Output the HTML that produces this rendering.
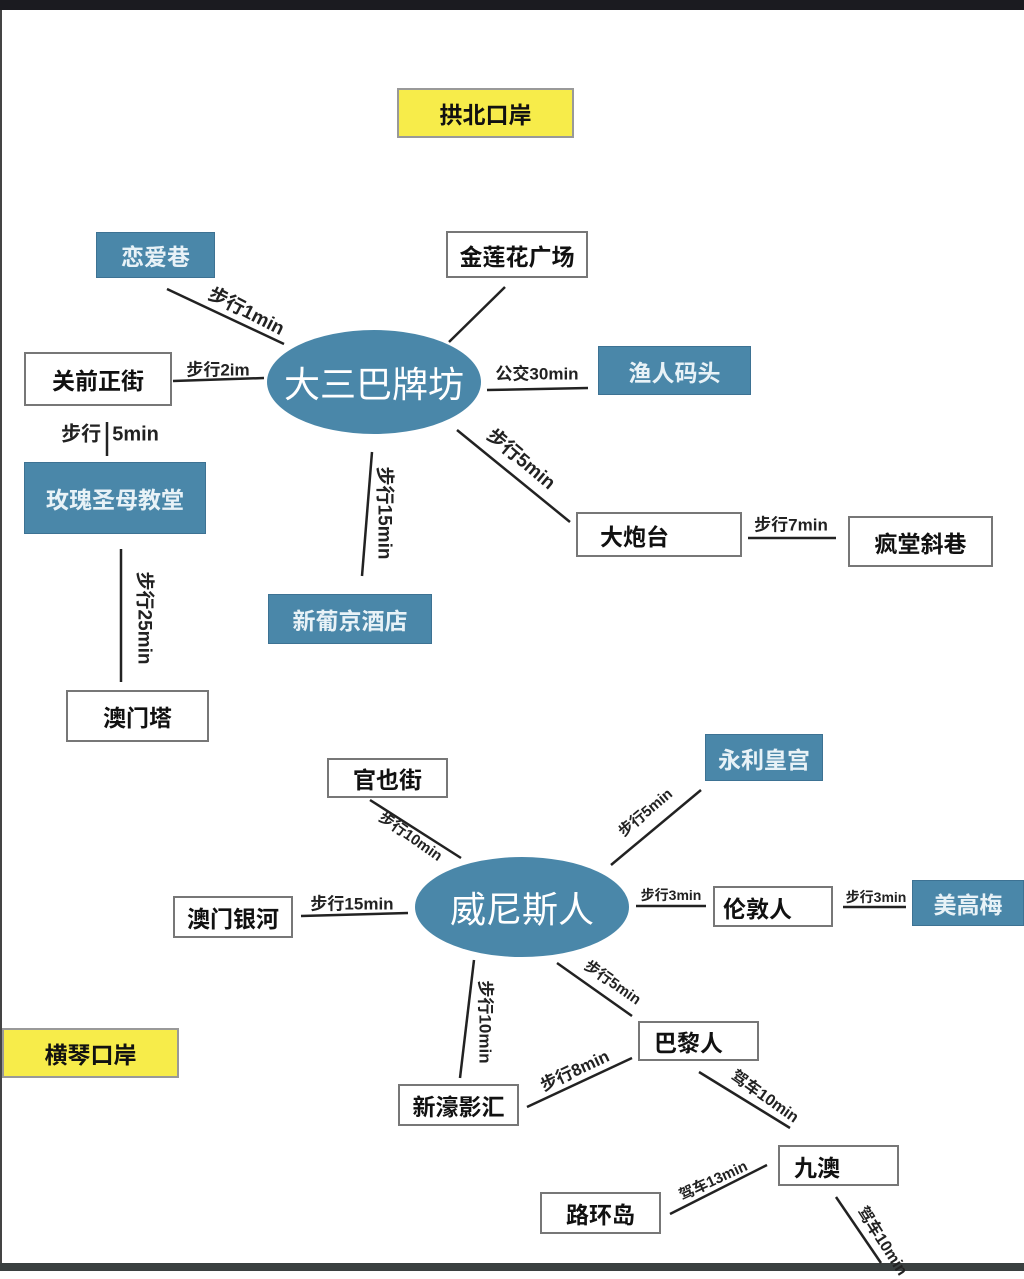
<!DOCTYPE html>
<html><head><meta charset="utf-8"><style>
body{margin:0;width:1024px;height:1271px;position:relative;background:#fff;overflow:hidden;font-family:"Liberation Sans","Noto Sans CJK SC",sans-serif;}
.b{position:absolute;box-sizing:border-box;display:flex;align-items:center;justify-content:center;font-size:23px;font-weight:bold;color:#111;}
.w{background:#fff;border:2px solid #777;}
.u{background:#4a87a9;color:#e8f2f7;border:1px solid #3d7293;}
.y{background:#f7ec4a;border:2px solid #999;}
.e{position:absolute;background:#4a87a9;border-radius:50%;display:flex;align-items:center;justify-content:center;color:#fff;font-size:36px;}
.l{position:absolute;font-size:17px;font-weight:bold;color:#222;white-space:nowrap;transform-origin:center;}
svg{position:absolute;left:0;top:0}
</style></head><body>
<div style="position:absolute;left:0;top:0;width:1024px;height:10px;background:#1b1b20"></div>
<div style="position:absolute;left:0;top:10px;width:2px;height:1253px;background:#444"></div>
<div style="position:absolute;left:0;top:1263px;width:1024px;height:8px;background:#3a4040"></div>
<svg width="1024" height="1271" stroke="#222" stroke-width="2.5">
<line x1="167" y1="289" x2="284" y2="344"/>
<line x1="505" y1="287" x2="449" y2="342"/>
<line x1="173" y1="381" x2="264" y2="378"/>
<line x1="487" y1="390" x2="588" y2="388"/>
<line x1="457" y1="430" x2="570" y2="522"/>
<line x1="748" y1="538" x2="836" y2="538"/>
<line x1="372" y1="452" x2="362" y2="576"/>
<line x1="107" y1="422" x2="107" y2="456"/>
<line x1="121" y1="549" x2="121" y2="682"/>
<line x1="370" y1="800" x2="461" y2="858"/>
<line x1="701" y1="790" x2="611" y2="865"/>
<line x1="301" y1="916" x2="408" y2="913"/>
<line x1="636" y1="906" x2="706" y2="906"/>
<line x1="843" y1="907" x2="906" y2="907"/>
<line x1="557" y1="963" x2="632" y2="1016"/>
<line x1="474" y1="960" x2="460" y2="1078"/>
<line x1="527" y1="1107" x2="632" y2="1058"/>
<line x1="699" y1="1072" x2="790" y2="1128"/>
<line x1="670" y1="1214" x2="767" y2="1165"/>
<line x1="836" y1="1197" x2="881" y2="1263"/>
</svg>
<div class="b y" style="left:397px;top:88px;width:177px;height:50px">拱北口岸</div>
<div class="b u" style="left:96px;top:232px;width:119px;height:46px">恋爱巷</div>
<div class="b w" style="left:446px;top:231px;width:142px;height:47px">金莲花广场</div>
<div class="b w" style="left:24px;top:352px;width:148px;height:54px">关前正街</div>
<div class="b u" style="left:598px;top:346px;width:153px;height:49px">渔人码头</div>
<div class="e" style="left:267px;top:330px;width:214px;height:104px">大三巴牌坊</div>
<div class="b u" style="left:24px;top:462px;width:182px;height:72px">玫瑰圣母教堂</div>
<div class="b w" style="left:576px;top:512px;width:166px;height:45px;justify-content:flex-start;padding-left:22px">大炮台</div>
<div class="b w" style="left:848px;top:516px;width:145px;height:51px">疯堂斜巷</div>
<div class="b u" style="left:268px;top:594px;width:164px;height:50px">新葡京酒店</div>
<div class="b w" style="left:66px;top:690px;width:143px;height:52px">澳门塔</div>
<div class="b u" style="left:705px;top:734px;width:118px;height:47px">永利皇宫</div>
<div class="b w" style="left:327px;top:758px;width:121px;height:40px">官也街</div>
<div class="e" style="left:415px;top:857px;width:214px;height:100px">威尼斯人</div>
<div class="b w" style="left:173px;top:896px;width:120px;height:42px">澳门银河</div>
<div class="b w" style="left:713px;top:886px;width:120px;height:41px;justify-content:flex-start;padding-left:8px">伦敦人</div>
<div class="b u" style="left:912px;top:880px;width:112px;height:46px">美高梅</div>
<div class="b y" style="left:2px;top:1028px;width:177px;height:50px">横琴口岸</div>
<div class="b w" style="left:638px;top:1021px;width:121px;height:40px;justify-content:flex-start;padding-left:14px">巴黎人</div>
<div class="b w" style="left:398px;top:1084px;width:121px;height:42px">新濠影汇</div>
<div class="b w" style="left:778px;top:1145px;width:121px;height:41px;justify-content:flex-start;padding-left:14px">九澳</div>
<div class="b w" style="left:540px;top:1192px;width:121px;height:42px">路环岛</div>

<div class="l" style="left:247px;top:310px;transform:translate(-50%,-50%) rotate(27deg);font-size:19px">步行1min</div>
<div class="l" style="left:218px;top:368px;transform:translate(-50%,-50%)">步行2im</div>
<div class="l" style="left:537px;top:372px;transform:translate(-50%,-50%)">公交30min</div>
<div class="l" style="left:522px;top:458px;transform:translate(-50%,-50%) rotate(40deg);font-size:19px">步行5min</div>
<div class="l" style="left:791px;top:523px;transform:translate(-50%,-50%)">步行7min</div>
<div class="l" style="left:386px;top:513px;transform:translate(-50%,-50%) rotate(90deg);font-size:19px">步行15min</div>
<div class="l" style="left:110px;top:432px;transform:translate(-50%,-50%);font-size:20px">步行&nbsp;&nbsp;5min</div>
<div class="l" style="left:146px;top:618px;transform:translate(-50%,-50%) rotate(90deg);font-size:19px">步行25min</div>
<div class="l" style="left:411px;top:836px;transform:translate(-50%,-50%) rotate(35deg);font-size:15px">步行10min</div>
<div class="l" style="left:645px;top:812px;transform:translate(-50%,-50%) rotate(-40deg);font-size:15px">步行5min</div>
<div class="l" style="left:352px;top:902px;transform:translate(-50%,-50%)">步行15min</div>
<div class="l" style="left:671px;top:895px;transform:translate(-50%,-50%);font-size:14px">步行3min</div>
<div class="l" style="left:876px;top:897px;transform:translate(-50%,-50%);font-size:14px">步行3min</div>
<div class="l" style="left:613px;top:982px;transform:translate(-50%,-50%) rotate(35deg);font-size:15px">步行5min</div>
<div class="l" style="left:487px;top:1022px;transform:translate(-50%,-50%) rotate(90deg)">步行10min</div>
<div class="l" style="left:574px;top:1069px;transform:translate(-50%,-50%) rotate(-25deg)">步行8min</div>
<div class="l" style="left:766px;top:1095px;transform:translate(-50%,-50%) rotate(35deg);font-size:16px">驾车10min</div>
<div class="l" style="left:713px;top:1180px;transform:translate(-50%,-50%) rotate(-25deg);font-size:15px">驾车13min</div>
<div class="l" style="left:884px;top:1240px;transform:translate(-50%,-50%) rotate(57deg);font-size:16px">驾车10min</div>
</body></html>
